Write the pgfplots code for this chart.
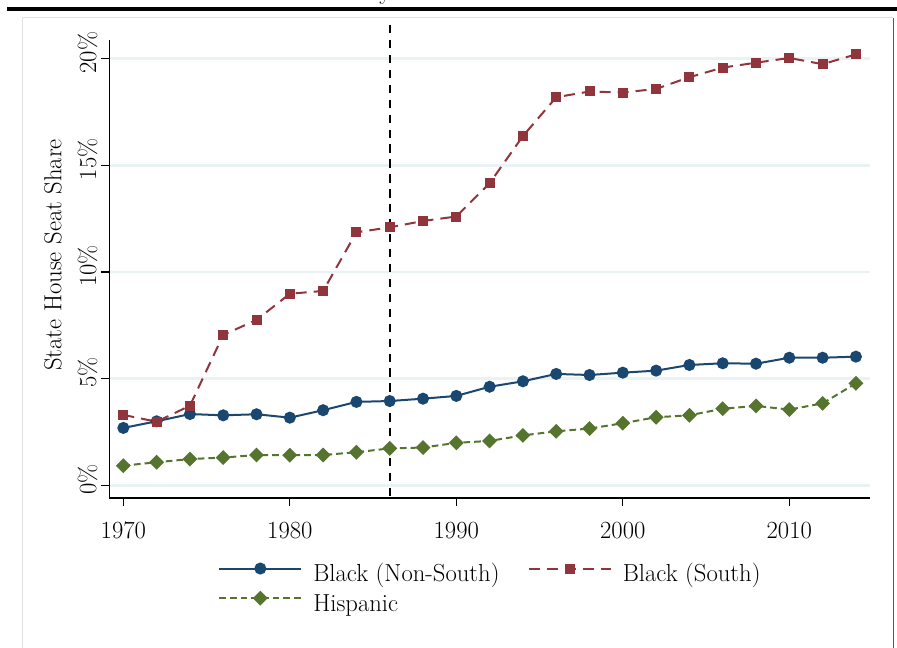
\documentclass[border=0pt]{standalone}
\usepackage{pgfplots}
\pgfplotsset{compat=1.18}
\definecolor{navy}{HTML}{1A476F}
\definecolor{maroon}{HTML}{90353B}
\definecolor{forest}{HTML}{55752F}
\definecolor{gridc}{HTML}{EAF2F3}
\begin{document}
\fontsize{18.5}{22}\selectfont
\begin{tikzpicture}
\path[use as bounding box] (0,0) rectangle (672.75pt,486pt);
\draw[line width=2.8pt] (5.25pt,479.4pt) -- (672.75pt,479.4pt);
\draw[color=black!12, line width=0.8pt] (17pt,0pt) -- (17pt,473pt) -- (670pt,473pt);
\draw[color=black!65, line width=1.1pt] (670pt,472.5pt) -- (670pt,0pt);
\node[anchor=base, inner sep=0pt] at (289pt,486.5pt) {y};
\begin{axis}[
  at={(82pt,112.5pt)}, anchor=south west,
  scale only axis, width=570.5pt, height=343.5pt,
  xmin=1969.159, xmax=2014.847, ymin=-0.595, ymax=20.874,
  axis x line*=bottom, axis y line*=left,
  axis line style={line width=0.9pt, -},
  xtick={1970,1980,1990,2000,2010},
  ytick={0,5,10,15,20},
  yticklabels={0\%,5\%,10\%,15\%,20\%},
  tick align=outside,
  major tick length=6pt,
  tick style={black, line width=0.9pt},
  ymajorgrids, grid style={gridc, line width=2pt},
  /pgf/number format/1000 sep={},
  /pgf/number format/assume math mode=true,
  xticklabel style={anchor=north, inner sep=0pt},
  xticklabel shift=12pt,
  yticklabel style={rotate=90, anchor=south, inner sep=0pt, xshift=4.5pt},
  yticklabel shift=2.6pt,
  ylabel={State House Seat Share},
  every axis y label/.style={at={(axis description cs:-0.0622,0.5306)}, rotate=90, anchor=south, inner sep=0pt},
  clip=false,
  legend columns=2,
  legend cell align=left,
  legend style={draw=none, fill=none, at={(axis description cs:0.1433,-0.1428)}, anchor=north west,
    inner sep=0pt, outer sep=0pt, nodes={inner sep=0pt}, cells={anchor=base west},
    /tikz/every odd column/.append style={column sep=8.25pt},
    /tikz/every even column/.append style={column sep=21.2pt},
    row sep=4.95pt},
  legend image code/.code={
    \draw[#1, mark repeat=2, mark phase=2] plot coordinates {(0pt,10pt) (30.75pt,10pt) (61.5pt,10pt)};
  },
]
\addplot[navy, line width=1.5pt, mark=*, mark size=3.75pt, mark options={solid, fill=navy, draw=navy}] coordinates {
(1970,2.69) (1972,3.00) (1974,3.34) (1976,3.28) (1978,3.33) (1980,3.17) (1982,3.52) (1984,3.91)
(1986,3.95) (1988,4.06) (1990,4.19) (1992,4.62) (1994,4.875) (1996,5.22) (1998,5.17) (2000,5.28)
(2002,5.375) (2004,5.64) (2006,5.72) (2008,5.70) (2010,5.98) (2012,5.98) (2014,6.03)};
\addlegendentry{Black (Non-South)}
\addplot[maroon, line width=1.5pt, dash pattern=on 8.25pt off 5.25pt, mark=square*, mark size=3pt, mark options={solid, fill=maroon, draw=maroon}] coordinates {
(1970,3.30) (1972,2.98) (1974,3.73) (1976,7.05) (1978,7.75) (1980,8.98) (1982,9.11) (1984,11.86)
(1986,12.09) (1988,12.39) (1990,12.60) (1992,14.16) (1994,16.37) (1996,18.19) (1998,18.46) (2000,18.41)
(2002,18.58) (2004,19.13) (2006,19.58) (2008,19.81) (2010,20.03) (2012,19.74) (2014,20.20)};
\addlegendentry{Black (South)}
\addplot[forest, line width=1.5pt, dash pattern=on 5pt off 3pt, mark=square*, mark size=3.2pt, mark options={solid, rotate=45, fill=forest, draw=forest}] coordinates {
(1970,0.92) (1972,1.08) (1974,1.23) (1976,1.30) (1978,1.42) (1980,1.41) (1982,1.42) (1984,1.55)
(1986,1.73) (1988,1.77) (1990,1.99) (1992,2.08) (1994,2.34) (1996,2.53) (1998,2.66) (2000,2.91)
(2002,3.19) (2004,3.28) (2006,3.59) (2008,3.72) (2010,3.55) (2012,3.84) (2014,4.78)};
\addlegendentry{Hispanic}
\addplot[black, line width=1.5pt, dash pattern=on 6.2pt off 5pt, forget plot] coordinates {(1986,21.577) (1986,-0.595)};
\end{axis}
\end{tikzpicture}
\end{document}
